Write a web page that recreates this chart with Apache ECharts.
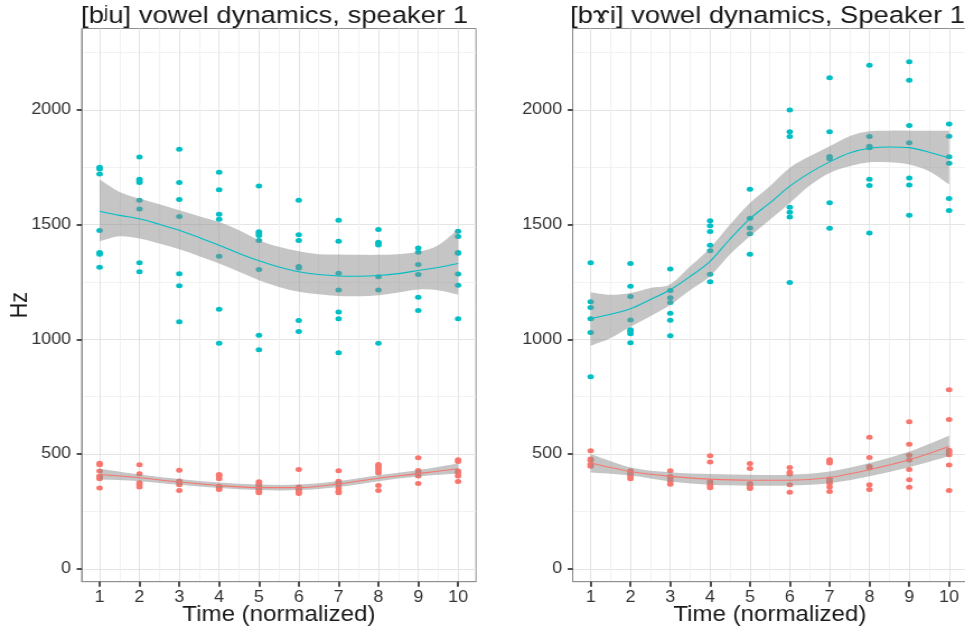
<!DOCTYPE html>
<html>
<head>
<meta charset="utf-8">
<script src="https://cdn.jsdelivr.net/npm/echarts@6/dist/echarts.min.js"></script>
<style>
  html, body { margin: 0; padding: 0; background: #fff; overflow: hidden; }
  #wrap { width: 965px; height: 626px; overflow: hidden; }
  /* the figure is laid out narrower and widened horizontally */
  #chart { width: 862px; height: 626px; transform: scaleX(1.1195); transform-origin: 0 0; }
</style>
</head>
<body>
<div id="wrap"><div id="chart"></div></div>
<script>
// Time steps (normalized) and axis breaks
var timeSteps = [1, 2, 3, 4, 5, 6, 7, 8, 9, 10];
var timeMinor = [1.5, 2.5, 3.5, 4.5, 5.5, 6.5, 7.5, 8.5, 9.5];
var timeFine = [1, 1.5, 2, 2.5, 3, 3.5, 4, 4.5, 5, 5.5, 6, 6.5, 7, 7.5, 8, 8.5, 9, 9.5, 10];
var hzTicks = [0, 500, 1000, 1500, 2000];
var hzMinor = [250, 750, 1250, 1750, 2250];

var panelTitles = ['[b\u02B2u] vowel dynamics, speaker 1', '[b\u0264i] vowel dynamics, Speaker 1'];

// [bʲu] — measured formant values per time step
var biuF1 = [
  [460, 454, 426, 405, 398, 392, 352],
  [453, 414, 375, 366, 357],
  [430, 383, 376, 366, 341],
  [411, 404, 392, 360, 353, 346],
  [379, 372, 363, 356, 347, 338, 331],
  [433, 357, 350, 343, 336, 328],
  [427, 382, 375, 367, 352, 338, 331],
  [455, 447, 437, 426, 418, 363, 341],
  [484, 428, 418, 405, 372],
  [475, 468, 426, 418, 405, 381]
];
var biuF2 = [
  [1749, 1742, 1720, 1474, 1378, 1371, 1314],
  [1794, 1697, 1690, 1683, 1606, 1568, 1334, 1294],
  [1828, 1683, 1609, 1535, 1286, 1233, 1076],
  [1728, 1652, 1545, 1523, 1362, 1131, 983],
  [1668, 1469, 1461, 1452, 1430, 1304, 1018, 955],
  [1606, 1455, 1430, 1317, 1311, 1082, 1034],
  [1519, 1427, 1288, 1215, 1119, 1089, 941],
  [1478, 1423, 1418, 1411, 1272, 1215, 983],
  [1398, 1379, 1326, 1282, 1183, 1125],
  [1471, 1448, 1378, 1375, 1285, 1236, 1089]
];
// [bʲu] — smoothed trends with confidence bands
var biuF1Fit   = [411, 397, 378, 363, 354, 354, 370, 395, 415, 436];
var biuF1Upper = [436, 411, 391, 376, 367, 367, 383, 408, 430, 459];
var biuF1Lower = [389, 382, 366, 352, 343, 343, 357, 382, 402, 415];
var biuF2Fit   = [1558, 1540, 1525, 1501, 1475, 1443, 1410, 1374, 1342, 1315, 1294, 1282, 1276, 1275, 1278, 1286, 1300, 1313, 1330];
var biuF2Upper = [1696, 1642, 1613, 1588, 1562, 1536, 1511, 1475, 1432, 1403, 1384, 1371, 1369, 1368, 1368, 1371, 1381, 1410, 1479];
var biuF2Lower = [1427, 1449, 1439, 1417, 1392, 1362, 1330, 1294, 1257, 1228, 1207, 1196, 1189, 1188, 1192, 1204, 1217, 1214, 1195];

// [bɤi] — measured formant values per time step
var bgiF1 = [
  [514, 478, 472, 456, 447],
  [427, 418, 410, 401, 392],
  [427, 402, 394, 381, 369],
  [493, 465, 381, 370, 362, 353],
  [459, 437, 372, 365, 357, 350],
  [442, 421, 413, 366, 334],
  [475, 468, 461, 391, 382, 373, 357, 337],
  [573, 485, 446, 439, 366, 346],
  [641, 543, 495, 474, 433, 388, 355],
  [780, 651, 517, 507, 497, 452, 341]
];
var bgiF2 = [
  [1334, 1164, 1138, 1090, 1030, 837],
  [1330, 1231, 1187, 1084, 1042, 1035, 1024, 985],
  [1306, 1213, 1181, 1160, 1113, 1083, 1016],
  [1517, 1495, 1470, 1410, 1386, 1283, 1251],
  [1654, 1527, 1485, 1460, 1370],
  [1999, 1904, 1883, 1575, 1553, 1533, 1248],
  [2139, 1904, 1796, 1787, 1595, 1484],
  [2194, 1883, 1841, 1834, 1697, 1670, 1463],
  [2209, 2129, 1931, 1856, 1703, 1672, 1540],
  [1938, 1885, 1795, 1767, 1613, 1561]
];
// [bɤi] — smoothed trends with confidence bands
var bgiF1Fit   = [461, 424, 403, 391, 386, 386, 398, 432, 475, 533];
var bgiF1Upper = [500, 442, 421, 413, 410, 410, 424, 461, 511, 580];
var bgiF1Lower = [420, 407, 381, 366, 362, 363, 373, 403, 443, 490];
var bgiF2Fit   = [1090, 1109, 1133, 1173, 1216, 1274, 1340, 1437, 1526, 1594, 1667, 1725, 1773, 1812, 1832, 1838, 1835, 1815, 1790];
var bgiF2Upper = [1205, 1194, 1202, 1224, 1240, 1318, 1398, 1500, 1594, 1667, 1747, 1797, 1841, 1885, 1906, 1909, 1909, 1909, 1909];
var bgiF2Lower = [972, 1006, 1055, 1100, 1150, 1215, 1275, 1370, 1449, 1521, 1594, 1670, 1725, 1754, 1771, 1771, 1761, 1732, 1674];

var RED = '#F8766D';
var TEAL = '#00BFC4';
var BAND = 'rgba(140,140,140,0.5)';
var FONT = '"Liberation Sans", Arial, Helvetica, "DejaVu Sans", sans-serif';
var X_MIN = 0.55, X_MAX = 10.45;
var Y_MIN = -56, Y_MAX = 2354;
var S = 1.1195; // horizontal widening applied to the chart element

function points(groups) {
  var out = [];
  groups.forEach(function (vals, i) {
    vals.forEach(function (v) { out.push([timeSteps[i], v]); });
  });
  return out;
}
function pairs(xs, ys) {
  return xs.map(function (x, i) { return [x, ys[i]]; });
}
function plain(v) { return String(v); }

// Catmull-Rom curve through pixel points, as SVG path commands
function curveThrough(p, move) {
  var d = (move ? 'M' : 'L') + p[0][0] + ' ' + p[0][1];
  for (var i = 0; i < p.length - 1; i++) {
    var p0 = p[Math.max(i - 1, 0)], p1 = p[i], p2 = p[i + 1], p3 = p[Math.min(i + 2, p.length - 1)];
    var c1x = p1[0] + (p2[0] - p0[0]) / 6, c1y = p1[1] + (p2[1] - p0[1]) / 6;
    var c2x = p2[0] - (p3[0] - p1[0]) / 6, c2y = p2[1] - (p3[1] - p1[1]) / 6;
    d += 'C' + c1x + ' ' + c1y + ' ' + c2x + ' ' + c2y + ' ' + p2[0] + ' ' + p2[1];
  }
  return d;
}

var grids = [
  { left: 81.7 / S, top: 28.5, width: 394.3 / S, height: 553.2 },
  { left: 572.7 / S, top: 28.5, width: 394.3 / S, height: 553.2 }
];
grids.forEach(function (g) {
  g.show = true; g.borderColor = '#8f8f8f'; g.borderWidth = 1; g.backgroundColor = '#fff';
  g.outerBoundsMode = 'none'; g.containLabel = false;
});

var xAxes = [], yAxes = [];
[0, 1].forEach(function (g) {
  xAxes.push({
    type: 'value', gridIndex: g, min: X_MIN, max: X_MAX, position: 'bottom',
    axisLine: { show: true, onZero: false, lineStyle: { color: '#8f8f8f', width: 1 } },
    axisTick: { show: true, customValues: timeSteps, length: 5, lineStyle: { color: '#222', width: 1.6 } },
    axisLabel: { show: true, customValues: timeSteps, formatter: plain, margin: 8, fontSize: 16, color: '#333', fontFamily: FONT },
    splitLine: { show: true, lineStyle: { color: '#e4e4e4', width: 1 } },
    name: 'Time (normalized)', nameLocation: 'middle', nameGap: 22, nameMoveOverlap: false,
    nameTextStyle: { fontSize: 21.5, color: '#1a1a1a', fontFamily: FONT, verticalAlign: 'top' }
  });
  xAxes.push({
    type: 'value', gridIndex: g, min: X_MIN, max: X_MAX, position: 'bottom',
    axisLine: { show: false, onZero: false },
    axisTick: { show: false, customValues: timeMinor },
    axisLabel: { show: false, customValues: timeMinor },
    splitLine: { show: true, lineStyle: { color: '#f2f2f2', width: 1 } }
  });
  var yMain = {
    type: 'value', gridIndex: g, min: Y_MIN, max: Y_MAX, position: 'left',
    axisLine: { show: true, onZero: false, lineStyle: { color: '#8f8f8f', width: 1 } },
    axisTick: { show: true, customValues: hzTicks, length: 5 / S, lineStyle: { color: '#222', width: 1.6 } },
    axisLabel: { show: true, customValues: hzTicks, formatter: plain, margin: 9.5, fontSize: 16, color: '#333', fontFamily: FONT },
    splitLine: { show: true, lineStyle: { color: '#e4e4e4', width: 1 } }
  };
  if (g === 0) {
    yMain.name = 'Hz';
    yMain.nameLocation = 'middle';
    yMain.nameGap = 44;
    yMain.nameMoveOverlap = false;
    yMain.nameTextStyle = { fontSize: 21.5, color: '#1a1a1a', fontFamily: FONT };
  }
  yAxes.push(yMain);
  yAxes.push({
    type: 'value', gridIndex: g, min: Y_MIN, max: Y_MAX, position: 'left',
    axisLine: { show: false, onZero: false },
    axisTick: { show: false, customValues: hzMinor },
    axisLabel: { show: false, customValues: hzMinor },
    splitLine: { show: true, lineStyle: { color: '#f2f2f2', width: 1 } }
  });
});

function scatter(g, data, color) {
  return {
    type: 'scatter', xAxisIndex: g * 2, yAxisIndex: g * 2, data: points(data),
    symbol: 'circle', symbolSize: [5.8, 5], itemStyle: { color: color, opacity: 1 },
    silent: true, z: 2
  };
}
// confidence band drawn as one filled shape between the lower and upper curves
function band(g, xs, lo, hi) {
  return {
    type: 'custom', xAxisIndex: g * 2, yAxisIndex: g * 2, silent: true, z: 3,
    data: xs.map(function (x, i) { return [x, lo[i], hi[i]]; }),
    encode: { x: 0, y: [1, 2] },
    renderItem: function (params, api) {
      if (params.dataIndex !== 0) return null;
      var up = xs.map(function (x, i) { return api.coord([x, hi[i]]); });
      var dn = xs.map(function (x, i) { return api.coord([x, lo[i]]); }).reverse();
      var d = curveThrough(up, true) + curveThrough(dn, false) + 'Z';
      return { type: 'path', shape: { pathData: d }, style: { fill: BAND, stroke: null } };
    }
  };
}
function fit(g, xs, ys, color) {
  return {
    type: 'line', xAxisIndex: g * 2, yAxisIndex: g * 2, data: pairs(xs, ys),
    symbol: 'none', smooth: 0.3, lineStyle: { color: color, width: 1.1 }, silent: true, z: 4
  };
}

var series = [
  scatter(0, biuF1, RED), scatter(0, biuF2, TEAL),
  band(0, timeSteps, biuF1Lower, biuF1Upper),
  band(0, timeFine, biuF2Lower, biuF2Upper),
  fit(0, timeSteps, biuF1Fit, RED), fit(0, timeFine, biuF2Fit, TEAL),
  scatter(1, bgiF1, RED), scatter(1, bgiF2, TEAL),
  band(1, timeSteps, bgiF1Lower, bgiF1Upper),
  band(1, timeFine, bgiF2Lower, bgiF2Upper),
  fit(1, timeSteps, bgiF1Fit, RED), fit(1, timeFine, bgiF2Fit, TEAL)
];

var titleStyle = { fontSize: 24.5, fontWeight: 'normal', color: '#1a1a1a', fontFamily: FONT };
var chart = echarts.init(document.getElementById('chart'), null, { renderer: 'canvas' });
chart.setOption({
  animation: false,
  backgroundColor: '#fff',
  title: [
    { text: panelTitles[0], left: 81 / S, top: 4, padding: 0, textStyle: titleStyle },
    { text: panelTitles[1], left: 570 / S, top: 4, padding: 0, textStyle: titleStyle }
  ],
  grid: grids,
  xAxis: xAxes,
  yAxis: yAxes,
  series: series
});
</script>
</body>
</html>
